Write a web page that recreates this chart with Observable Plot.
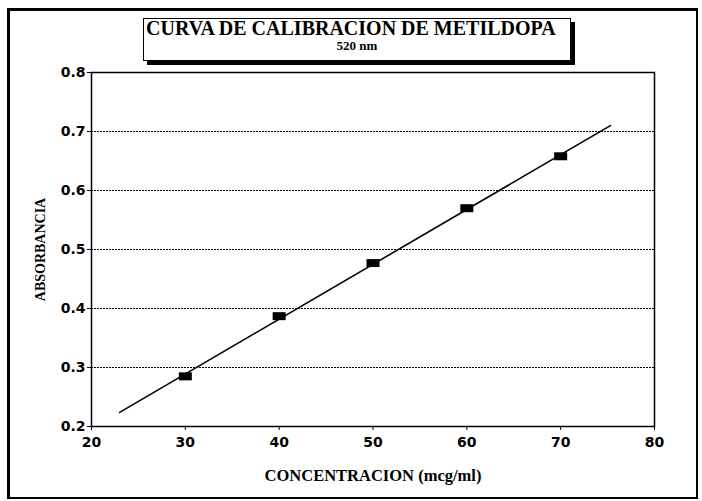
<!DOCTYPE html>
<html><head><meta charset="utf-8">
<script src="https://cdn.jsdelivr.net/npm/d3@7"></script>
<script src="https://cdn.jsdelivr.net/npm/@observablehq/plot@0.6"></script>
<style>
body{margin:0;background:#fff;}
#wrap{position:relative;width:702px;height:501px;overflow:hidden;background:#fff;}
#wrap svg{position:absolute;left:0;top:0;}
#border{position:absolute;left:7px;top:8px;width:691px;height:491px;border-left:3px solid #000;border-top:3px solid #000;border-right:2px solid #000;border-bottom:2px solid #000;box-sizing:border-box;}
#title{position:absolute;left:143px;top:18px;width:428px;height:43px;border:1.5px solid #000;box-shadow:4px 4px 0 #000;background:#fff;box-sizing:border-box;font-family:"Liberation Serif",serif;font-weight:bold;color:#000;}
#t1{position:absolute;left:2px;top:0.8px;font-size:20px;line-height:16px;white-space:nowrap;}
#t2{position:absolute;left:0;right:0;top:21.1px;text-align:center;font-size:13px;line-height:12px;}
</style>
</head><body>
<div id="wrap">
  <div id="border"></div>
  <div id="title"><div id="t1">CURVA DE CALIBRACION DE METILDOPA</div><div id="t2">520 nm</div></div>
</div>
<script>
const concentracion = [30, 40, 50, 60, 70];
const absorbancia = [0.285, 0.387, 0.477, 0.570, 0.658];
const fitX = [23, 75.3];
const fitY = [0.224, 0.710];
const xTicks = [20, 30, 40, 50, 60, 70, 80];
const yTicks = [0.2, 0.3, 0.4, 0.5, 0.6, 0.7, 0.8];
const gridTicks = [0.3, 0.4, 0.5, 0.6, 0.7];
const xLabel = "CONCENTRACION (mcg/ml)";
const yLabel = "ABSORBANCIA";

const points = concentracion.map((x, i) => ({x, y: absorbancia[i]}));
const fit = fitX.map((x, i) => ({x, y: fitY[i]}));
const rectSymbol = {draw(ctx) { ctx.rect(-6.5, -4, 13, 8); }};
const serif = "Liberation Serif";
const sans = "DejaVu Sans";

const chart = Plot.plot({
  width: 702, height: 501,
  marginLeft: 91, marginRight: 48, marginTop: 72, marginBottom: 75,
  x: {domain: [20, 80]},
  y: {domain: [0.2, 0.8]},
  style: {fontFamily: sans, fontWeight: "bold", fontSize: "14px", color: "#000", background: "transparent"},
  marks: [
    Plot.gridY(gridTicks, {stroke: "#000", strokeOpacity: 1, strokeDasharray: "2,1", strokeWidth: 1}),
    Plot.frame({stroke: "#000", strokeWidth: 1.5}),
    Plot.axisX(xTicks, {tickSize: 4, tickPadding: 7, label: null, fontSize: 14, fontFamily: sans, fontWeight: "bold"}),
    Plot.axisY(yTicks, {tickSize: 4, tickPadding: 2, tickFormat: d3.format(".1f"), label: null, fontSize: 14, fontFamily: sans, fontWeight: "bold"}),
    Plot.line(fit, {x: "x", y: "y", stroke: "#000", strokeWidth: 1.6}),
    Plot.dot(points, {x: "x", y: "y", symbol: rectSymbol, fill: "#000", stroke: null}),
    Plot.text([xLabel], {frameAnchor: "bottom", dy: 49, textAnchor: "middle", lineAnchor: "middle", fontFamily: serif, fontSize: 16.5, fontWeight: "bold"}),
    Plot.text([yLabel], {frameAnchor: "left", dx: -51, rotate: -90, textAnchor: "middle", lineAnchor: "middle", fontFamily: serif, fontSize: 14, fontWeight: "bold"})
  ]
});
document.getElementById("wrap").prepend(chart);
</script>
</body></html>
